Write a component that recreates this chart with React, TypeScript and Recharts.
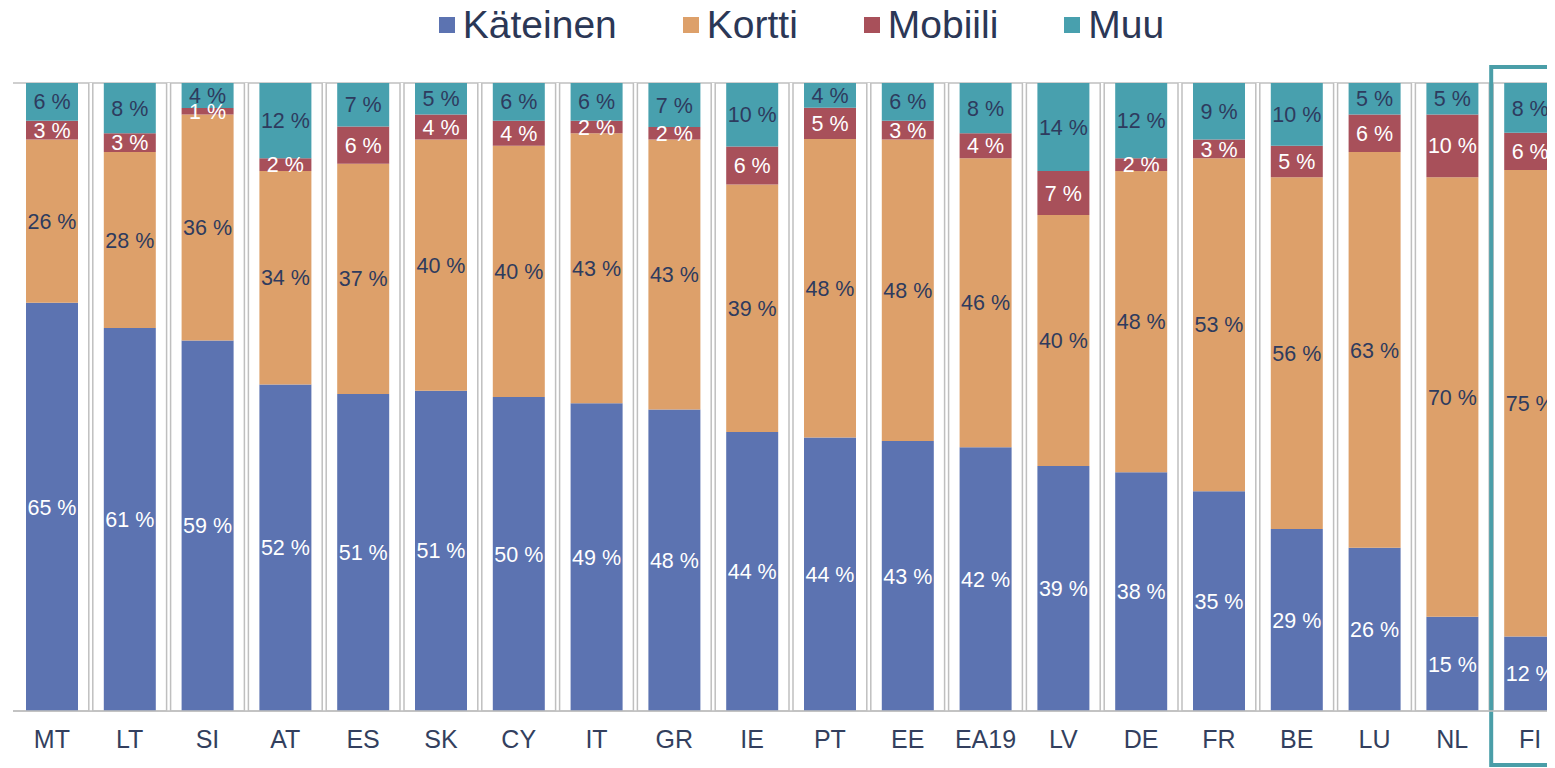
import React from "react";
import {
  BarChart,
  Bar,
  XAxis,
  YAxis,
  CartesianGrid,
  Legend,
  LabelList,
  ReferenceArea,
} from "recharts";

const categories = ["MT", "LT", "SI", "AT", "ES", "SK", "CY", "IT", "GR", "IE", "PT", "EE", "EA19", "LV", "DE", "FR", "BE", "LU", "NL", "FI"];
const kateinen = [65, 61, 59, 52, 51, 51, 50, 49, 48, 44, 44, 43, 42, 39, 38, 35, 29, 26, 15, 12];
const kortti = [26, 28, 36, 34, 37, 40, 40, 43, 43, 39, 48, 48, 46, 40, 48, 53, 56, 63, 70, 75];
const mobiili = [3, 3, 1, 2, 6, 4, 4, 2, 2, 6, 5, 3, 4, 7, 2, 3, 5, 6, 10, 6];
const muu = [6, 8, 4, 12, 7, 5, 6, 6, 7, 10, 4, 6, 8, 14, 12, 9, 10, 5, 5, 8];
const yTicks = [0, 0.2, 0.4, 0.6, 0.8, 1];

const series = [
  { key: "kateinen", name: "Käteinen", color: "#5C73B1", label: "#FFFFFF" },
  { key: "kortti", name: "Kortti", color: "#DDA06A", label: "#2E3B5E" },
  { key: "mobiili", name: "Mobiili", color: "#A8505A", label: "#FFFFFF" },
  { key: "muu", name: "Muu", color: "#48A0AE", label: "#2E3B5E" },
];

const data = categories.map((c, i) => ({
  name: c,
  kateinen: kateinen[i],
  kortti: kortti[i],
  mobiili: mobiili[i],
  muu: muu[i],
}));

const FONT = "'Liberation Sans', Arial, sans-serif";
const GRID = "#BFBFBF";

const LegendContent = () => (
  <div
    style={{
      display: "flex",
      justifyContent: "center",
      alignItems: "center",
      height: 34,
      paddingLeft: 32,
      boxSizing: "border-box",
      fontFamily: FONT,
      fontSize: 39,
      color: "#2B3756",
    }}
  >
    {series.map((s) => (
      <div key={s.key} style={{ display: "flex", alignItems: "center", margin: "0 33px" }}>
        <div style={{ width: 16, height: 16, background: s.color, marginRight: 8 }} />
        <span style={{ lineHeight: "34px" }}>{s.name}</span>
      </div>
    ))}
  </div>
);

const DoubleLine = (props: any) => {
  const { x1, y1, y2 } = props;
  return (
    <g>
      <rect x={x1 - 2} y={y1} width={4} height={y2 - y1} fill="#FFFFFF" />
      <line x1={x1 - 2} x2={x1 - 2} y1={y1} y2={y2} stroke={GRID} strokeWidth={1.5} />
      <line x1={x1 + 2} x2={x1 + 2} y1={y1} y2={y2} stroke={GRID} strokeWidth={1.5} />
    </g>
  );
};

const HighlightBox = (props: any) => {
  const { x, y, height } = props;
  return (
    <rect
      x={x}
      y={y - 16}
      width={120}
      height={height + 70}
      fill="none"
      stroke="#4A9EA8"
      strokeWidth={4}
    />
  );
};

export default function App() {
  const n = categories.length;
  return (
    <BarChart
      width={1581}
      height={760}
      data={data}
      stackOffset="expand"
      margin={{ top: 41, right: 20, bottom: 7, left: 5 }}
    >
      <Legend verticalAlign="top" wrapperStyle={{ top: 0, left: 0, width: 1555 }} content={<LegendContent />} />
      <CartesianGrid
        stroke={GRID}
        strokeWidth={1.5}
        horizontal={true}
        vertical={<DoubleLine />}
        verticalCoordinatesGenerator={({ offset }: any) =>
          Array.from({ length: n - 1 }, (_, i) => offset.left + ((i + 1) * offset.width) / n)
        }
      />
      <XAxis
        dataKey="name"
        tickLine={false}
        tickSize={0}
        tickMargin={19}
        height={50}
        axisLine={{ stroke: GRID, strokeWidth: 1.5 }}
        tick={{ fontSize: 25, fill: "#333F5E", fontFamily: FONT }}
        interval={0}
      />
      <YAxis
        width={0}
        domain={[0, 1]}
        ticks={yTicks}
        tick={false}
        tickLine={false}
        axisLine={{ stroke: GRID, strokeWidth: 1.5 }}
      />
      {series.map((s) => (
        <Bar key={s.key} dataKey={s.key} name={s.name} stackId="a" fill={s.color} barSize={52} isAnimationActive={false}>
          <LabelList
            dataKey={s.key}
            position="center"
            formatter={(v: any) => `${v} %`}
            style={{ fontSize: 21.5, fill: s.label, fontFamily: FONT }}
          />
        </Bar>
      ))}
      <ReferenceArea x1="FI" x2="FI" ifOverflow="visible" shape={<HighlightBox />} />
    </BarChart>
  );
}
